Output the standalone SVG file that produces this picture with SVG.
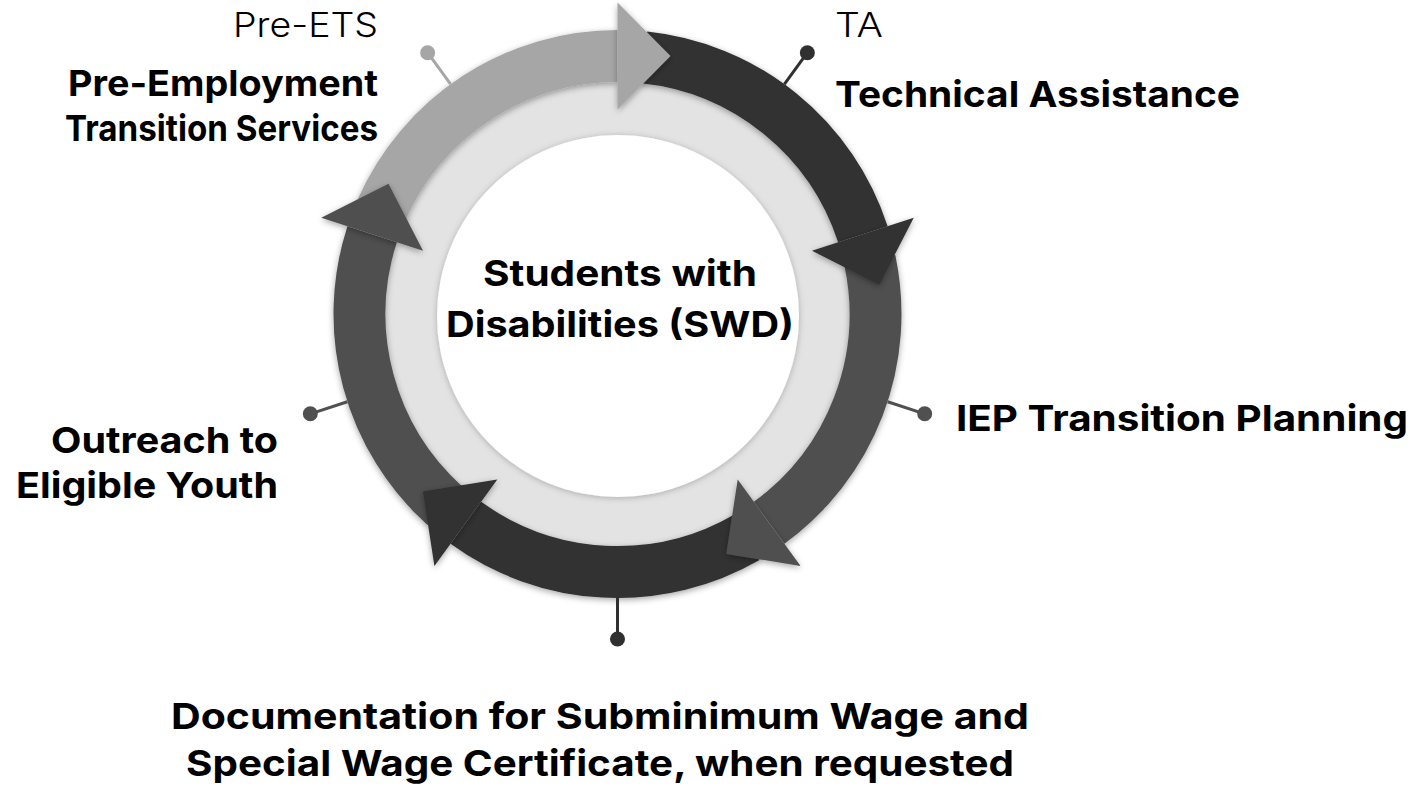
<svg xmlns="http://www.w3.org/2000/svg" width="1426" height="789" viewBox="0 0 1426 789">
  <defs>
    <filter id="sh" x="-20%" y="-20%" width="140%" height="140%">
      <feDropShadow dx="0" dy="2" stdDeviation="3" flood-color="#000" flood-opacity="0.35"/>
    </filter>
    <filter id="shw" x="-20%" y="-20%" width="140%" height="140%">
      <feDropShadow dx="0" dy="1" stdDeviation="3" flood-color="#000" flood-opacity="0.25"/>
    </filter>
  </defs>
  <style>
    .body { fill: none; stroke-width: 52; stroke-linecap: butt; }
    .lbl { font-family: Inter, 'Open Sans', 'Liberation Sans', sans-serif; font-weight: 700; font-size: 36px; fill: #000; }
    .lt { font-family: Inter, 'Open Sans', 'Liberation Sans', sans-serif; font-weight: 300; font-size: 34px; fill: #000; }
    .ln { stroke-width: 3; fill: none; }
    .c1 { fill: #a6a6a6; } .s1 { stroke: #a6a6a6; }
    .c2 { fill: #303030; } .s2 { stroke: #303030; }
    .c3 { fill: #505050; } .s3 { stroke: #505050; }
  </style>
  <rect width="1426" height="789" fill="#ffffff"/>

  <g id="center">
    <circle cx="617.5" cy="314" r="240" fill="#e3e3e3"/>
    <circle cx="618" cy="316" r="181" fill="#ffffff" filter="url(#shw)"/>
    <text class="lbl" x="620" y="286" text-anchor="middle" textLength="274" lengthAdjust="spacingAndGlyphs">Students with</text>
    <text class="lbl" x="620" y="337" text-anchor="middle" textLength="348" lengthAdjust="spacingAndGlyphs">Disabilities (SWD)</text>
  </g>

  <g id="cycle">
    <g id="bodies" filter="url(#sh)">
      <path class="body s1" d="M381.81 209.06 A258 258 0 0 1 617.5 56"/>
      <path class="body s2" d="M644.47 57.41 A258 258 0 0 1 862.87 234.27"/>
      <path class="body s3" d="M869.86 260.36 A258 258 0 0 1 769.15 522.73"/>
      <path class="body s2" d="M746.5 537.43 A258 258 0 0 1 465.85 522.73"/>
      <path class="body s3" d="M444.86 505.73 A258 258 0 0 1 372.13 234.27"/>
    </g>
    <g id="heads" filter="url(#sh)">
      <polygon class="c1" points="617.5,2.5 670.5,56 617.5,109.5"/>
      <polygon class="c2" points="913.75,217.74 879.25,284.68 811.99,250.80"/>
      <polygon class="c3" points="800.60,566.01 726.27,553.88 737.70,479.45"/>
      <polygon class="c2" points="434.40,566.01 422.97,491.58 497.30,479.45"/>
      <polygon class="c3" points="321.25,217.74 388.51,183.86 423.01,250.80"/>
    </g>
  </g>

  <g id="connectors">
    <line class="ln s1" x1="450.57" y1="84.24" x2="427.65" y2="52.69"/>
    <circle class="c1" cx="427.65" cy="52.69" r="7.5"/>
    <line class="ln s2" x1="784.43" y1="84.24" x2="807.35" y2="52.69"/>
    <circle class="c2" cx="807.35" cy="52.69" r="7.5"/>
    <line class="ln s3" x1="887.60" y1="401.76" x2="924.69" y2="413.81"/>
    <circle class="c3" cx="924.69" cy="413.81" r="7.5"/>
    <line class="ln s2" x1="617.5" y1="598" x2="617.5" y2="639"/>
    <circle class="c2" cx="617.5" cy="639" r="7.5"/>
    <line class="ln s3" x1="347.40" y1="401.76" x2="310.31" y2="413.81"/>
    <circle class="c3" cx="310.31" cy="413.81" r="7.5"/>
  </g>

  <g id="node-preets">
    <text class="lt" x="378" y="37" text-anchor="end" textLength="145" lengthAdjust="spacingAndGlyphs">Pre-ETS</text>
    <text class="lbl" x="378" y="96" text-anchor="end" textLength="310" lengthAdjust="spacingAndGlyphs">Pre-Employment</text>
    <text class="lbl" x="378" y="141" text-anchor="end" textLength="313" lengthAdjust="spacingAndGlyphs">Transition Services</text>
  </g>
  <g id="node-ta">
    <text class="lt" x="835" y="37" textLength="48" lengthAdjust="spacingAndGlyphs">TA</text>
    <text class="lbl" x="835" y="107" textLength="405" lengthAdjust="spacingAndGlyphs">Technical Assistance</text>
  </g>
  <g id="node-iep">
    <text class="lbl" x="956" y="431" textLength="452" lengthAdjust="spacingAndGlyphs">IEP Transition Planning</text>
  </g>
  <g id="node-doc">
    <text class="lbl" x="600" y="729" text-anchor="middle" textLength="858" lengthAdjust="spacingAndGlyphs">Documentation for Subminimum Wage and</text>
    <text class="lbl" x="600" y="776" text-anchor="middle" textLength="828" lengthAdjust="spacingAndGlyphs">Special Wage Certificate, when requested</text>
  </g>
  <g id="node-outreach">
    <text class="lbl" x="278" y="453" text-anchor="end" textLength="227" lengthAdjust="spacingAndGlyphs">Outreach to</text>
    <text class="lbl" x="278" y="498" text-anchor="end" textLength="262" lengthAdjust="spacingAndGlyphs">Eligible Youth</text>
  </g>
</svg>
